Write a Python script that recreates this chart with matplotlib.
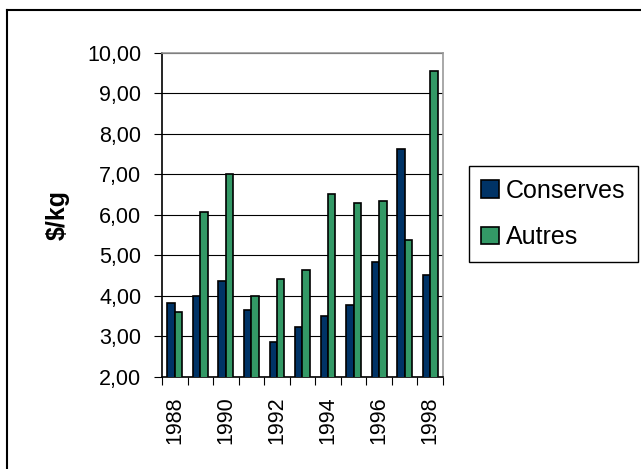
import matplotlib
matplotlib.use('Agg')
import matplotlib.pyplot as plt
from matplotlib.lines import Line2D
import numpy as np

years = [1988, 1989, 1990, 1991, 1992, 1993, 1994, 1995, 1996, 1997, 1998]
conserves = [3.83, 3.99, 4.36, 3.66, 2.86, 3.23, 3.51, 3.77, 4.85, 7.64, 4.53]
autres = [3.61, 6.08, 7.00, 3.99, 4.42, 4.63, 6.52, 6.30, 6.35, 5.38, 9.56]
yticks = [2, 3, 4, 5, 6, 7, 8, 9, 10]

plt.rcParams['font.family'] = ['Liberation Sans', 'DejaVu Sans']

fig = plt.figure(figsize=(6.41, 4.69), dpi=100)
ax = fig.add_axes([0.2527, 0.1962, 0.4384, 0.6908])

x = np.arange(len(years))
w = 0.29
ax.bar(x - w / 2, conserves, w, color='#003366', edgecolor='black',
       linewidth=1.2, label='Conserves', zorder=3)
ax.bar(x + w / 2, autres, w, color='#339966', edgecolor='black',
       linewidth=1.2, label='Autres', zorder=3)

ax.set_ylim(2, 10)
ax.set_xlim(-0.5, len(years) - 0.5)
ax.set_yticks(yticks)
ax.set_yticklabels([f'{v:.2f}'.replace('.', ',') for v in yticks], fontsize=15.5)
ax.yaxis.grid(True, color='black', linewidth=0.8, zorder=0)
ax.set_axisbelow(True)

# ticks between categories, labels on even years only
ax.set_xticks(np.arange(len(years) + 1) - 0.5)
ax.set_xticklabels([])
ax.set_xticks(x, minor=True)
ax.set_xticklabels([str(y) if y % 2 == 0 else '' for y in years], minor=True,
                   rotation=90, fontsize=15.5)
ax.tick_params(axis='x', which='minor', length=0, pad=14)
ax.tick_params(axis='x', which='major', length=6, direction='out', color='black')
ax.tick_params(axis='y', length=6, direction='out', color='black', pad=9)

ax.spines['left'].set_color('black')
ax.spines['bottom'].set_color('black')
ax.spines['top'].set_color('#999999')
ax.spines['right'].set_color('#999999')
for s in ax.spines.values():
    s.set_linewidth(1.2)

ax.set_ylabel('$/kg', fontsize=18, fontweight='bold')
ax.yaxis.set_label_coords(-(162 - 70) / 281, 0.5)

leg = fig.legend(loc='upper right', bbox_to_anchor=(638 / 641, 1 - 166 / 469),
                 fontsize=18, handlelength=0.7, handleheight=0.7,
                 handletextpad=0.3, labelspacing=0.9, borderpad=0.5,
                 borderaxespad=0, fancybox=False, framealpha=1)
leg.get_frame().set_edgecolor('black')
leg.get_frame().set_linewidth(1)

# outer frame (top and left only)
fig.add_artist(Line2D([7 / 641, 7 / 641], [0, 1 - 10 / 469], color='black', linewidth=1.5))
fig.add_artist(Line2D([7 / 641, 1], [1 - 10 / 469, 1 - 10 / 469], color='black', linewidth=1.5))

fig.savefig('out.png', dpi=100, facecolor='white')
